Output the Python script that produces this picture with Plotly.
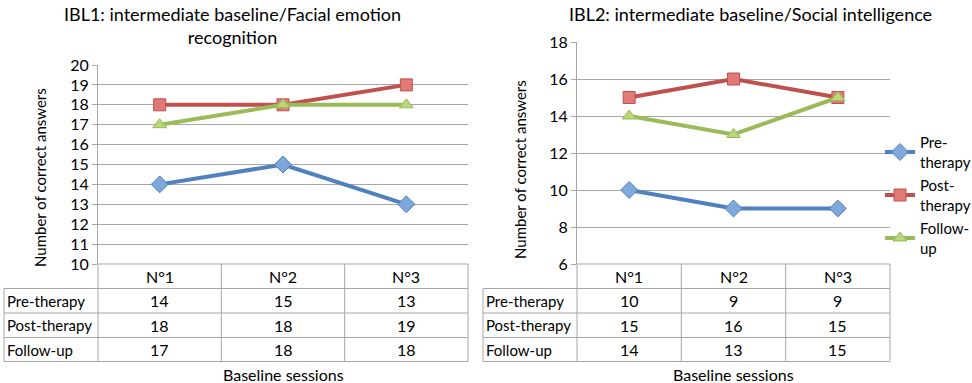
import plotly.graph_objects as go

W, H = 972, 383

sessions = ["N°1", "N°2", "N°3"]
series_names = ["Pre-therapy", "Post-therapy", "Follow-up"]
legend_names = ["Pre-<br>therapy", "Post-<br>therapy", "Follow-<br>up"]

ibl1_pre = [14, 15, 13]
ibl1_post = [18, 18, 19]
ibl1_follow = [17, 18, 18]

ibl2_pre = [10, 9, 9]
ibl2_post = [15, 16, 15]
ibl2_follow = [14, 13, 15]

title1 = "IBL1: intermediate baseline/Facial emotion<br>recognition"
title2 = "IBL2: intermediate baseline/Social intelligence"
ytitle = "Number of correct answers"
xtitle = "Baseline sessions"

line_colors = ["#4F81BD", "#C0504D", "#9BBB59"]
fill_colors = ["#7FA7DA", "#E07A77", "#B7D77A"]
symbols = ["diamond", "square", "triangle-up"]
FONT = "Lato"
GRID = "#A6A6A6"
TBL = 15


def px(x):
    return x / W


def py(y):
    return 1 - y / H


fig = go.Figure()

panels = [
    dict(x="x", y="y", data=[ibl1_pre, ibl1_post, ibl1_follow], legend=False),
    dict(x="x2", y="y2", data=[ibl2_pre, ibl2_post, ibl2_follow], legend=True),
]
for p in panels:
    for i, vals in enumerate(p["data"]):
        fig.add_trace(go.Scatter(
            x=sessions, y=vals, xaxis=p["x"], yaxis=p["y"],
            mode="lines+markers", name=legend_names[i],
            showlegend=p["legend"], legendgroup=series_names[i],
            line=dict(color=line_colors[i], width=4),
            marker=dict(symbol=symbols[i], size=12 if i != 0 else 13,
                        color=fill_colors[i],
                        line=dict(color=line_colors[i], width=1)),
        ))

# geometry (pixels)
L = dict(x0=98, x1=468, top=65, left=4)
R = dict(x0=577, x1=890, top=42, left=483)
bottom = 264
rows_y = [264, 288.5, 313, 337.5, 361.5]

fig.update_layout(
    width=W, height=H,
    margin=dict(l=0, r=0, t=0, b=0, autoexpand=False),
    paper_bgcolor="white", plot_bgcolor="white",
    font=dict(family=FONT, size=15, color="#000000"),
    showlegend=True,
    legend=dict(x=px(880), y=py(126), xanchor="left", yanchor="top",
                font=dict(size=15, family=FONT), bgcolor="rgba(0,0,0,0)",
                tracegroupgap=1, itemwidth=30),
    xaxis=dict(domain=[px(L["x0"]), px(L["x1"])], type="category",
               range=[-0.5, 2.5], showticklabels=False, showgrid=False,
               zeroline=False, showline=False, anchor="y"),
    yaxis=dict(domain=[py(bottom), py(L["top"])], range=[10, 20], dtick=1,
               showgrid=True, gridcolor=GRID, gridwidth=1, zeroline=False,
               showline=True, linecolor=GRID, linewidth=1,
               ticks="outside", ticklen=5, tickcolor=GRID,
               tickfont=dict(size=16), anchor="x"),
    xaxis2=dict(domain=[px(R["x0"]), px(R["x1"])], type="category",
                range=[-0.5, 2.5], showticklabels=False, showgrid=False,
                zeroline=False, showline=False, anchor="y2"),
    yaxis2=dict(domain=[py(bottom), py(R["top"])], range=[6, 18], dtick=2,
                showgrid=True, gridcolor=GRID, gridwidth=1, zeroline=False,
                showline=True, linecolor=GRID, linewidth=1,
                ticks="outside", ticklen=5, tickcolor=GRID,
                tickfont=dict(size=16), anchor="x2"),
)

shapes = []
annotations = []


def line(x0, y0, x1, y1):
    shapes.append(dict(type="line", xref="paper", yref="paper",
                       x0=px(x0), y0=py(y0), x1=px(x1), y1=py(y1),
                       line=dict(color=GRID, width=1)))


for P, xr, data in [(L, "x", [ibl1_pre, ibl1_post, ibl1_follow]),
                    (R, "x2", [ibl2_pre, ibl2_post, ibl2_follow])]:
    x0, x1 = P["x0"], P["x1"]
    cw = (x1 - x0) / 3
    line(x0, rows_y[0], x1, rows_y[0])
    for yy in rows_y[1:]:
        line(P["left"], yy, x1, yy)
    line(P["left"], rows_y[1], P["left"], rows_y[-1])
    for k in range(4):
        xx = x0 + k * cw
        line(xx, rows_y[0], xx, rows_y[-1])
    for j, s in enumerate(sessions):
        annotations.append(dict(x=s, xref=xr, y=py((rows_y[0] + rows_y[1]) / 2),
                                yref="paper", text=s, showarrow=False,
                                xanchor="center", yanchor="middle",
                                font=dict(size=TBL + 1)))
    for i, name in enumerate(series_names):
        yc = py((rows_y[i + 1] + rows_y[i + 2]) / 2)
        annotations.append(dict(x=px(P["left"] + 1), xref="paper", y=yc, yref="paper",
                                text=name, showarrow=False, xanchor="left",
                                yanchor="middle", font=dict(size=TBL)))
        for j, s in enumerate(sessions):
            annotations.append(dict(x=s, xref=xr, y=yc, yref="paper",
                                    text=str(data[i][j]), showarrow=False,
                                    xanchor="center", yanchor="middle",
                                    font=dict(size=TBL + 1)))
    annotations.append(dict(x=px((x0 + x1) / 2), xref="paper", y=py(374), yref="paper",
                            text=xtitle, showarrow=False, xanchor="center",
                            yanchor="middle", font=dict(size=TBL + 1)))

annotations.append(dict(x=px(232), y=py(1), xref="paper", yref="paper",
                        text=title1, showarrow=False, xanchor="center", yanchor="top",
                        font=dict(size=18)))
annotations.append(dict(x=px(750), y=py(1), xref="paper", yref="paper",
                        text=title2, showarrow=False, xanchor="center", yanchor="top",
                        font=dict(size=18)))
annotations.append(dict(x=px(40), y=py(178), xref="paper", yref="paper",
                        text=ytitle, showarrow=False, textangle=-90,
                        xanchor="center", yanchor="middle", font=dict(size=15)))
annotations.append(dict(x=px(520), y=py(170), xref="paper", yref="paper",
                        text=ytitle, showarrow=False, textangle=-90,
                        xanchor="center", yanchor="middle", font=dict(size=15)))

fig.update_layout(shapes=shapes, annotations=annotations)
fig.write_html("out.html", config={"displayModeBar": False},
               post_script="document.body.style.margin='0';")
